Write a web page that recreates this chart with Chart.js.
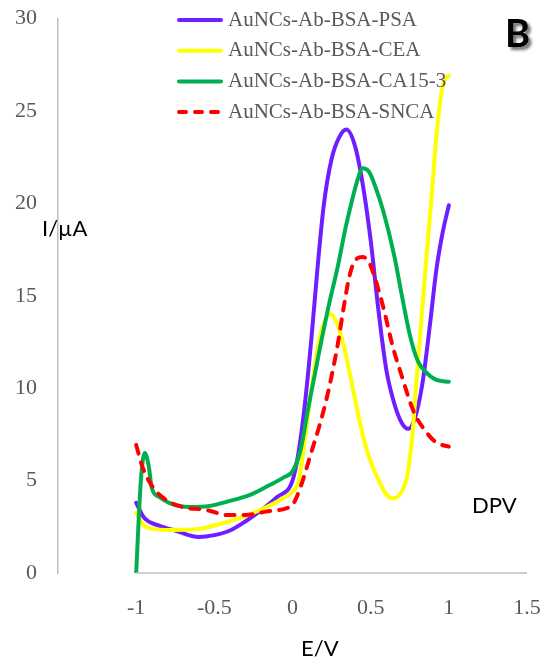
<!DOCTYPE html>
<html>
<head>
<meta charset="utf-8">
<script src="https://cdn.jsdelivr.net/npm/chart.js@4.4.1/dist/chart.umd.min.js"></script>
<style>
  body { margin: 0; background: #fff; }
  #chart { display: block; }
</style>
</head>
<body>
<canvas id="chart" width="554" height="666"></canvas>
<script>
// DPV curves, potential E (V) vs current I (µA)
const labels = ["AuNCs-Ab-BSA-PSA", "AuNCs-Ab-BSA-CEA", "AuNCs-Ab-BSA-CA15-3", "AuNCs-Ab-BSA-SNCA"];
const colors = ["#6F1FFF", "#FFFF00", "#00B050", "#FF0000"];

const psaE = [-1, -0.95, -0.85, -0.75, -0.6, -0.5, -0.4, -0.3, -0.2, -0.1, 0, 0.04, 0.08, 0.12, 0.16, 0.2, 0.25, 0.3, 0.345, 0.4, 0.45, 0.5, 0.55, 0.6, 0.65, 0.7, 0.74, 0.78, 0.83, 0.88, 0.92, 0.96, 1.0];
const psaI = [3.8, 3.0, 2.55, 2.3, 1.95, 2.05, 2.3, 2.8, 3.4, 4.1, 5.0, 6.6, 9.2, 12.6, 16.5, 19.9, 22.4, 23.6, 24.0, 23.1, 21.0, 18.0, 14.2, 11.0, 9.2, 8.1, 7.8, 8.3, 10.2, 13.5, 16.4, 18.4, 19.9];

const ceaE = [-1, -0.94, -0.81, -0.6, -0.49, -0.34, -0.21, -0.08, 0, 0.04, 0.08, 0.12, 0.16, 0.2, 0.242, 0.29, 0.333, 0.376, 0.42, 0.47, 0.52, 0.56, 0.6, 0.643, 0.69, 0.73, 0.75, 0.77, 0.79, 0.81, 0.85, 0.89, 0.92, 0.953, 0.98, 1.0];
const ceaI = [3.25, 2.5, 2.33, 2.38, 2.6, 2.97, 3.4, 3.95, 4.4, 5.0, 7.3, 9.9, 12.1, 13.5, 14.0, 13.4, 12.1, 10.4, 8.6, 6.8, 5.6, 4.87, 4.25, 4.04, 4.3, 5.1, 6.2, 7.74, 10.1, 12.2, 16.4, 20.4, 23.6, 26.0, 26.8, 26.9];

const ca153E = [-1, -0.97, -0.945, -0.92, -0.9, -0.85, -0.79, -0.66, -0.53, -0.4, -0.28, -0.17, -0.05, 0, 0.05, 0.1, 0.173, 0.23, 0.29, 0.34, 0.376, 0.41, 0.45, 0.49, 0.53, 0.58, 0.65, 0.7, 0.75, 0.8, 0.85, 0.92, 1.0];
const ca153I = [0, 5.0, 6.5, 5.8, 4.6, 4.1, 3.8, 3.57, 3.63, 3.9, 4.2, 4.65, 5.2, 5.5, 6.6, 8.9, 12.07, 14.4, 16.6, 18.7, 20.0, 21.1, 21.9, 21.7, 20.9, 19.6, 17.2, 15.0, 12.9, 11.5, 10.9, 10.45, 10.35];

const sncaE = [-1, -0.96, -0.895, -0.79, -0.66, -0.6, -0.53, -0.425, -0.3, -0.17, -0.04, 0, 0.045, 0.13, 0.17, 0.216, 0.256, 0.29, 0.33, 0.365, 0.4, 0.45, 0.49, 0.526, 0.58, 0.643, 0.707, 0.75, 0.79, 0.84, 0.9, 0.95, 1.0];
const sncaI = [6.93, 5.75, 4.67, 3.86, 3.5, 3.46, 3.37, 3.14, 3.14, 3.32, 3.5, 3.68, 4.5, 6.8, 7.9, 9.36, 10.9, 12.4, 14.5, 16.1, 16.9, 17.1, 16.8, 16.0, 14.4, 12.2, 10.44, 9.3, 8.46, 7.8, 7.2, 6.95, 6.84];

const xTicks = [-1, -0.5, 0, 0.5, 1, 1.5];
const yTicks = [0, 5, 10, 15, 20, 25, 30];

const series = [[psaE, psaI], [ceaE, ceaI], [ca153E, ca153I], [sncaE, sncaI]];

const datasets = series.map(([e, i], k) => ({
    label: labels[k],
    data: e.map((v, n) => ({ x: v, y: i[n] })),
    borderColor: colors[k],
    backgroundColor: colors[k],
    borderWidth: 4,
    borderCapStyle: "round",
    borderDash: k === 3 ? [9, 9] : [],
    pointRadius: 0,
    cubicInterpolationMode: "monotone",
    order: 3 - k
}));

const serif = "'Liberation Serif', 'Times New Roman', serif";
const sans = "Lato, 'Open Sans', sans-serif";

// axis line, titles, legend and panel letter
const extras = {
    id: "extras",
    afterDraw(chart) {
        const ctx = chart.ctx;
        const x = chart.scales.x;
        const y = chart.scales.y;
        ctx.save();

        ctx.strokeStyle = "#BFBFBF";
        ctx.lineWidth = 1.5;
        ctx.beginPath();
        ctx.moveTo(x.getPixelForValue(-1), y.getPixelForValue(0));
        ctx.lineTo(x.getPixelForValue(1.5), y.getPixelForValue(0));
        ctx.stroke();

        ctx.fillStyle = "#000";
        ctx.font = "22px " + sans;
        ctx.textBaseline = "alphabetic";
        ctx.textAlign = "left";
        ctx.fillText("I/µA", 42, 236);
        ctx.fillText("E/V", 301, 656);
        ctx.fillText("DPV", 472, 513);

        ctx.shadowColor = "rgba(0,0,0,0.55)";
        ctx.shadowOffsetX = 3;
        ctx.shadowOffsetY = 3;
        ctx.shadowBlur = 3;
        ctx.font = "bold 38px " + sans;
        ctx.fillText("B", 505, 47);
        ctx.shadowColor = "transparent";

        ctx.font = "21px " + serif;
        ctx.textBaseline = "middle";
        labels.forEach((name, k) => {
            const rowY = 20 + k * 30.7;
            ctx.strokeStyle = colors[k];
            ctx.lineWidth = 4;
            ctx.lineCap = "round";
            ctx.setLineDash(k === 3 ? [7, 9] : []);
            ctx.beginPath();
            ctx.moveTo(179, rowY);
            ctx.lineTo(221, rowY);
            ctx.stroke();
            ctx.setLineDash([]);
            ctx.fillStyle = "#595959";
            ctx.fillText(name, 228, rowY);
        });
        ctx.restore();
    }
};

new Chart(document.getElementById("chart"), {
    type: "line",
    data: { datasets: datasets },
    options: {
        responsive: false,
        animation: false,
        layout: { padding: { top: 18.6, right: 27, left: 0, bottom: 0 } },
        plugins: {
            legend: { display: false },
            tooltip: { enabled: false }
        },
        scales: {
            x: {
                type: "linear",
                min: -1.5,
                max: 1.5,
                afterFit: (scale) => {
                    scale.height = 93;
                    scale.paddingLeft = 0;
                    scale.paddingRight = 0;
                },
                afterBuildTicks: (scale) => {
                    scale.ticks = [-1.5].concat(xTicks).map(v => ({ value: v }));
                },
                grid: { display: false, drawTicks: false },
                border: { display: false },
                ticks: {
                    padding: 22,
                    color: "#595959",
                    font: { family: serif, size: 22 },
                    maxRotation: 0,
                    callback: (v) => xTicks.includes(v) ? String(v) : ""
                }
            },
            y: {
                min: 0,
                max: 30,
                afterFit: (scale) => {
                    scale.width = 58;
                    scale.paddingTop = 0;
                    scale.paddingBottom = 0;
                },
                afterBuildTicks: (scale) => {
                    scale.ticks = yTicks.map(v => ({ value: v }));
                },
                grid: { display: false, drawTicks: false },
                border: { display: true, color: "#BFBFBF", width: 1.5 },
                ticks: {
                    padding: 21,
                    color: "#595959",
                    font: { family: serif, size: 22 }
                }
            }
        }
    },
    plugins: [extras]
});
</script>
</body>
</html>
